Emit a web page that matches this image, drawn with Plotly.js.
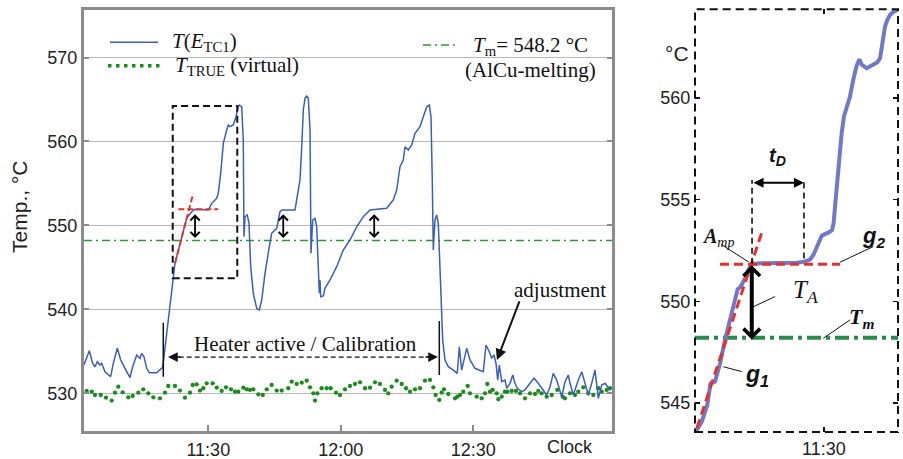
<!DOCTYPE html>
<html>
<head>
<meta charset="utf-8">
<script src="https://cdn.plot.ly/plotly-3.0.1.min.js"></script>
<style>html,body{margin:0;padding:0;background:#fff;}#chart{width:903px;height:459px;}</style>
</head>
<body>
<div id="chart"></div>
<script>
// ---------- DATA (minutes after 11:00, temperature in °C) ----------
const mainX = [1.86,3.06,3.83,4.35,4.87,5.48,5.87,6.61,7.90,8.49,9.40,10.17,11.14,12.27,12.88,13.79,14.54,14.92,15.44,16.05,16.64,18.32,19.68,
  20.58,21.33,21.94,22.46,22.85,24.34,25.11,26.24,26.99,30.00,30.77,31.90,32.26,32.81,33.40,34.17,34.53,34.91,35.66,36.27,36.66,37.02,37.56,
  37.92,38.08,38.31,38.83,39.21,39.60,40.19,40.96,41.55,42.09,42.84,43.36,43.81,44.35,45.49,46.23,46.69,49.63,50.38,50.76,51.15,51.51,51.89,
  52.28,52.64,53.03,53.25,53.64,54.16,54.54,54.90,55.13,55.29,55.45,56.04,56.42,57.55,59.07,60.56,62.08,63.60,65.09,66.22,66.61,70.39,71.88,
  72.65,73.40,74.15,74.53,75.28,76.05,76.80,77.93,78.68,79.45,80.03,80.42,80.71,80.94,81.32,81.71,82.07,82.46,82.84,83.07,83.59,84.34,85.47,
  86.37,86.83,87.37,88.50,89.25,90.38,92.26,92.87,93.62,94.16,94.68,95.14,95.52,95.88,96.43,97.17,97.56,98.31,98.92,99.44,99.96,100.96,101.70,
  102.83,103.74,104.71,105.84,106.61,107.36,108.11,108.88,110.01,110.76,111.50,111.89,112.64,113.77,114.54,115.29,116.03,116.80,117.55,118.30,
  119.07,119.81,120.56,120.95];
const mainT = [533.37,535.07,533.57,533.17,533.76,533.37,533.57,532.57,531.98,533.57,535.36,533.97,532.98,531.86,533.17,534.56,534.17,534.76,534.36,532.98,532.45,532.45,533.10,
  537.15,541.11,543.73,545.49,546.27,549.45,550.85,551.63,551.92,551.83,552.63,553.23,553.82,556.21,559.78,561.36,561.96,561.76,561.96,562.95,563.95,564.34,564.14,
  560.17,548.65,551.04,551.24,550.25,545.08,541.91,540.12,539.92,541.11,544.29,546.27,547.46,549.06,549.65,551.63,551.83,551.83,554.22,555.41,559.37,563.75,565.14,
  565.41,565.14,561.36,546.68,550.64,550.85,549.84,545.08,541.91,543.50,541.51,541.59,542.51,543.50,545.08,547.07,548.26,549.84,551.04,551.63,551.83,552.04,553.03,
  554.22,556.99,557.79,559.37,558.98,559.58,560.97,561.76,562.95,564.14,564.34,562.95,555.41,547.07,550.64,551.24,550.25,545.08,539.53,536.35,533.97,533.17,532.77,
  532.38,535.55,532.77,535.36,533.97,532.98,532.57,535.75,534.95,534.17,534.56,533.57,531.58,533.37,531.38,531.58,530.59,531.19,532.18,531.19,530.59,530.19,530.39,
  531.19,531.79,531.19,530.39,529.80,530.79,532.38,531.58,529.59,531.38,532.18,531.19,529.80,531.58,532.57,531.19,529.80,531.19,532.77,529.40,
  530.99,531.19,530.59,530.39];

const trueX = [2.47,3.60,4.35,5.64,6.84,8.13,8.88,9.62,10.62,11.89,12.88,14.15,15.28,16.42,17.55,19.06,20.20,20.94,22.46,23.59,24.72,25.86,26.47,27.37,28.12,28.87,29.64,
  31.00,31.90,33.03,34.01,35.14,36.05,36.79,37.92,38.69,39.44,40.19,41.32,42.32,43.22,44.35,45.49,46.62,48.11,48.88,50.01,51.15,52.28,53.03,53.77,54.16,54.68,55.67,
  56.81,57.71,58.91,59.82,60.95,62.08,63.21,64.35,65.48,66.61,67.74,68.87,70.00,70.75,71.52,72.65,73.79,74.76,75.67,76.80,77.93,79.06,80.19,80.94,81.48,82.30,82.84,
  83.36,84.34,85.85,86.37,86.99,87.73,88.73,89.25,90.77,91.90,92.65,93.17,93.78,94.39,95.30,95.66,96.43,97.17,97.69,98.69,99.66,100.57,101.70,102.83,103.97,104.71,
  105.48,106.61,107.75,109.01,110.24,110.76,111.89,113.02,113.77,114.90,116.03,117.17,118.30,119.07,120.20,120.95];
const trueT = [530.28,530.20,529.80,529.80,529.48,529.13,530.08,530.79,530.12,529.52,529.68,530.08,530.48,530.00,529.52,529.40,530.08,530.87,530.87,530.32,529.48,530.08,530.99,531.07,530.32,530.60,531.19,
  531.19,530.67,530.28,530.71,530.48,530.20,530.20,530.67,530.48,530.40,530.48,529.88,529.80,530.48,530.99,530.32,530.32,530.60,531.39,531.11,531.27,531.51,530.71,530.00,529.13,530.00,530.60,
  530.60,530.60,530.08,529.80,530.48,530.87,531.11,531.31,530.60,530.67,531.31,531.11,530.40,530.00,530.79,531.51,531.11,530.60,530.20,530.48,530.60,531.51,531.59,530.71,529.80,529.21,530.08,
  530.48,529.92,529.40,529.60,529.80,530.20,530.87,530.00,529.60,529.40,530.00,531.11,530.20,530.40,530.00,529.29,529.60,530.20,530.20,530.28,530.28,530.00,529.40,530.00,529.92,530.28,
  530.00,529.60,529.80,530.40,529.60,529.40,530.00,529.80,530.20,530.71,530.00,529.80,530.60,530.20,530.40,530.60];

const Tm = 548.2;

// detail window (inset)
const insetX = [20.70,21.15,21.55,21.70,21.78,22.11,22.50,22.83,23.25,23.68,23.75,23.95,24.30,24.52,24.77,25.37,27.50,28.02,28.60,28.99,29.25,29.47,29.83,30.05,30.29,30.58,30.70,30.80,31.04,31.28,31.45,31.64,31.88,32.12,32.35,32.56,32.75,33.09,33.57,33.85,34.06,34.20,34.42,34.60,34.78,35.05,35.36];
const insetT = [543.57,544.08,544.90,545.48,545.95,546.05,547.00,548.10,549.20,550.31,550.60,550.70,551.15,551.54,551.82,551.87,551.87,551.90,551.95,552.05,552.30,552.69,553.21,553.30,553.36,553.50,553.85,554.65,556.62,558.26,559.10,559.57,560.06,560.89,561.55,561.90,561.62,561.46,561.62,561.75,561.95,562.50,563.51,563.85,564.08,564.25,564.33];

// tangent lines g1 (rise) and g2 (plateau)
const g1MainX = [22.47, 26.60], g1MainT = [545.50, 553.83];
const g2MainX = [23.21, 32.26], g2MainT = [551.93, 551.93];
const g1InsetX = [20.80, 25.51], g1InsetT = [543.77, 553.41];
const g2InsetX = [22.47, 31.16], g2InsetT = [551.82, 551.82];

// plateau (A_mp) markers for the three cycles
const plateauX = [27.0, 46.97, 67.56];
const plateauT = [551.5, 551.5, 551.5];

const yTicks = [530, 540, 550, 560, 570];
const xTickVals = [30, 60, 90];
const xTickText = ['11:30', '12:00', '12:30'];
const insetYTicks = [545, 550, 555, 560];
const insetXTickVals = [30];
const insetXTickText = ['11:30'];

const xRange = [1.86, 121.51], yRange = [525.51, 575.66];
const x2Range = [20.66, 35.36], y2Range = [543.57, 564.36];

// ---------- TRACES ----------
const blue = '#3b5fb8', green = '#1a8c1a', red = '#e8302a';
const traces = [
  {x: trueX, y: trueT, mode: 'markers', marker: {color: green, size: 4.3}, xaxis: 'x', yaxis: 'y'},
  {x: xRange, y: [Tm, Tm], mode: 'lines', line: {color: '#2e9a2e', width: 1.3, dash: '8px,4px,2px,4px'}, xaxis: 'x', yaxis: 'y'},
  {x: mainX, y: mainT, mode: 'lines', line: {color: blue, width: 1.5}, xaxis: 'x', yaxis: 'y'},
  {x: g1MainX, y: g1MainT, mode: 'lines', line: {color: red, width: 2, dash: '6px,3px'}, xaxis: 'x', yaxis: 'y'},
  {x: g2MainX, y: g2MainT, mode: 'lines', line: {color: red, width: 2, dash: '6px,3px'}, xaxis: 'x', yaxis: 'y'},
  {x: x2Range, y: [Tm, Tm], mode: 'lines', line: {color: '#2a8a4c', width: 4, dash: '14px,5px,4px,5px'}, xaxis: 'x2', yaxis: 'y2'},
  {x: insetX, y: insetT, mode: 'lines', line: {color: '#7079c9', width: 4}, xaxis: 'x2', yaxis: 'y2'},
  {x: g1InsetX, y: g1InsetT, mode: 'lines', line: {color: red, width: 3, dash: '9px,5px'}, xaxis: 'x2', yaxis: 'y2'},
  {x: g2InsetX, y: g2InsetT, mode: 'lines', line: {color: red, width: 3, dash: '9px,5px'}, xaxis: 'x2', yaxis: 'y2'}
];

// ---------- LAYOUT ----------
const tickFont = {family: 'Liberation Sans, Arial, sans-serif', size: 18, color: '#222'};
const serif = 'Liberation Serif, Times New Roman, serif';
const sans = 'Liberation Sans, Arial, sans-serif';

const shapes = [
  {type: 'rect', xref: 'x2 domain', yref: 'y2 domain', x0: 0, x1: 1, y0: 0, y1: 1, line: {color: '#111', width: 2, dash: '8px,5px'}},
  {type: 'rect', xref: 'x', yref: 'y', x0: 21.95, x1: 36.56, y0: 543.71, y1: 564.23, line: {color: '#111', width: 2, dash: '7px,4px'}},
  {type: 'line', xref: 'x', yref: 'y', x0: 21.5, x1: 81.4, y0: 534.32, y1: 534.32, line: {color: '#111', width: 1.3, dash: '5px,3px'}},
  {type: 'line', xref: 'x', yref: 'y', x0: 19.81, x1: 19.81, y0: 531.98, y1: 538.41, line: {color: '#111', width: 1.5}},
  {type: 'line', xref: 'x', yref: 'y', x0: 82.30, x1: 82.30, y0: 532.18, y1: 538.61, line: {color: '#111', width: 1.5}},
  {type: 'line', xref: 'x2', yref: 'y2', x0: 24.79, x1: 24.79, y0: 551.85, y1: 555.97, line: {color: '#111', width: 1.6, dash: '6px,4px'}},
  {type: 'line', xref: 'x2', yref: 'y2', x0: 28.55, x1: 28.55, y0: 552.1, y1: 555.97, line: {color: '#111', width: 1.6, dash: '6px,4px'}},
  {type: 'line', xref: 'x2', yref: 'y2', x0: 22.55, x1: 24.55, y0: 552.80, y1: 551.93, line: {color: '#111', width: 1}},
  {type: 'line', xref: 'x2', yref: 'y2', x0: 31.16, x1: 33.57, y0: 551.92, y1: 552.69, line: {color: '#111', width: 1}},
  {type: 'line', xref: 'x2', yref: 'y2', x0: 24.88, x1: 26.45, y0: 549.73, y1: 550.23, line: {color: '#111', width: 1}},
  {type: 'line', xref: 'x2', yref: 'y2', x0: 29.95, x1: 31.88, y0: 548.18, y1: 549.08, line: {color: '#111', width: 1}},
  {type: 'line', xref: 'x2', yref: 'y2', x0: 22.71, x1: 24.04, y0: 546.78, y1: 546.54, line: {color: '#111', width: 1}},
  {type: 'line', xref: 'paper', yref: 'paper', x0: 0.1218, x1: 0.1750, y0: 0.9078, y1: 0.9078, line: {color: blue, width: 1.6}},
  {type: 'line', xref: 'paper', yref: 'paper', x0: 0.1196, x1: 0.1772, y0: 0.8569, y1: 0.8569, line: {color: green, width: 3.5, dash: '3.5px,4.5px'}},
  {type: 'line', xref: 'paper', yref: 'paper', x0: 0.4684, x1: 0.5083, y0: 0.9020, y1: 0.9020, line: {color: '#2e9a2e', width: 1.5, dash: '8px,4px,2px,4px'}}
];

function pa(x, y, text, font, extra) {
  return Object.assign({xref: 'paper', yref: 'paper', x: x, y: y, text: text, showarrow: false,
    xanchor: 'center', yanchor: 'middle', font: font}, extra || {});
}
const annotations = [
  pa(0.0210, 0.549, 'Temp., °C', {family: sans, size: 21, color: '#222'}, {textangle: -90}),
  pa(0.6312, 0.0262, 'Clock', {family: sans, size: 18, color: '#222'}),
  pa(0.7497, 0.8845, '°C', {family: sans, size: 21, color: '#222'}),
  pa(0.1883, 0.9085, '<i>T</i>(<i>E</i><sub>TC1</sub>)', {family: serif, size: 21, color: '#111'}, {xanchor: 'left'}),
  pa(0.1916, 0.8562, '<i>T</i><sub>TRUE</sub> (virtual)', {family: serif, size: 21, color: '#111'}, {xanchor: 'left'}),
  pa(0.5216, 0.8998, '<i>T</i><sub>m</sub>= 548.2 °C', {family: serif, size: 21, color: '#111'}, {xanchor: 'left'}),
  pa(0.5127, 0.8475, '(AlCu-melting)', {family: serif, size: 21, color: '#111'}, {xanchor: 'left'}),
  {xref: 'x', yref: 'y', x: 52.0, y: 535.9, xanchor: 'center', yanchor: 'middle', text: 'Heater active / Calibration', showarrow: false, font: {family: serif, size: 21, color: '#111'}},
  {xref: 'x', yref: 'y', x: 20.88, y: 534.32, ax: 14, ay: 0, text: '', showarrow: true, arrowhead: 2, arrowwidth: 1.5, arrowsize: 1.3, arrowcolor: '#111'},
  {xref: 'x', yref: 'y', x: 82.0, y: 534.32, ax: -14, ay: 0, text: '', showarrow: true, arrowhead: 2, arrowwidth: 1.5, arrowsize: 1.3, arrowcolor: '#111'},
  {xref: 'x', yref: 'y', x: 109.6, y: 542.3, xanchor: 'center', yanchor: 'middle', text: 'adjustment', showarrow: false, font: {family: serif, size: 21, color: '#111'}},
  {xref: 'x', yref: 'y', x: 95.36, y: 533.97, ax: 23, ay: -60, text: '', showarrow: true, arrowhead: 2, arrowwidth: 2, arrowsize: 1.1, arrowcolor: '#111'},
  {xref: 'x2', yref: 'y2', x: 24.77, y: 548.12, axref: 'x2', ayref: 'y2', ax: 24.77, ay: 551.85, text: '', showarrow: true,
   arrowside: 'end+start', arrowhead: 4, startarrowhead: 4, arrowwidth: 4, arrowsize: 0.8, startarrowsize: 0.8, arrowcolor: '#000'},
  {xref: 'x2', yref: 'y2', x: 28.55, y: 555.83, axref: 'x2', ayref: 'y2', ax: 24.79, ay: 555.83, text: '', showarrow: true,
   arrowside: 'end+start', arrowhead: 2, startarrowhead: 2, arrowwidth: 2, arrowsize: 1, startarrowsize: 1, arrowcolor: '#000'},
  {xref: 'x2', yref: 'y2', x: 26.60, y: 557.10, xanchor: 'center', yanchor: 'middle', text: '<b><i>t</i></b><sub><b><i>D</i></b></sub>', showarrow: false, font: {family: sans, size: 20, color: '#111'}},
  {xref: 'x2', yref: 'y2', x: 22.35, y: 553.15, xanchor: 'center', yanchor: 'middle', text: '<b><i>A</i></b><sub><i>mp</i></sub>', showarrow: false, font: {family: serif, size: 20, color: '#111'}},
  {xref: 'x2', yref: 'y2', x: 33.62, y: 553.16, xanchor: 'center', yanchor: 'middle', text: '<b><i>g</i></b><sub><b><i>2</i></b></sub>', showarrow: false, font: {family: sans, size: 22, color: '#111'}},
  {xref: 'x2', yref: 'y2', x: 28.65, y: 550.50, xanchor: 'center', yanchor: 'middle', text: '<i>T</i><sub><i>A</i></sub>', showarrow: false, font: {family: serif, size: 25, color: '#111'}},
  {xref: 'x2', yref: 'y2', x: 32.75, y: 549.18, xanchor: 'center', yanchor: 'middle', text: '<b><i>T</i></b><sub><b><i>m</i></b></sub>', showarrow: false, font: {family: serif, size: 22, color: '#111'}},
  {xref: 'x2', yref: 'y2', x: 25.15, y: 546.33, xanchor: 'center', yanchor: 'middle', text: '<b><i>g</i></b><sub><b><i>1</i></b></sub>', showarrow: false, font: {family: sans, size: 23, color: '#111'}}
];
plateauX.forEach((px, i) => {
  annotations.push({xref: 'x', yref: 'y', x: px, y: 548.5, axref: 'x', ayref: 'y', ax: px, ay: plateauT[i], text: '', showarrow: true,
    arrowside: 'end+start', arrowhead: 4, startarrowhead: 4, arrowwidth: 1.8, arrowsize: 1, startarrowsize: 1, arrowcolor: '#000'});
});

const layout = {
  width: 903, height: 459,
  margin: {l: 0, r: 0, t: 0, b: 0},
  paper_bgcolor: '#fff', plot_bgcolor: '#fff',
  showlegend: false,
  xaxis: {domain: [0.09302, 0.67829], range: xRange, anchor: 'y', tickvals: xTickVals, ticktext: xTickText,
    ticks: 'inside', ticklen: 6, tickwidth: 2, tickcolor: '#8c8c8c', showline: true, linewidth: 3, linecolor: '#8c8c8c', mirror: true,
    showgrid: false, zeroline: false, tickfont: tickFont, automargin: false},
  yaxis: {domain: [0.0610, 0.97821], range: yRange, anchor: 'x', tickvals: yTicks,
    ticks: 'inside', ticklen: 5, tickwidth: 2, tickcolor: '#8c8c8c', showline: true, linewidth: 3, linecolor: '#8c8c8c', mirror: 'ticks',
    showgrid: true, gridcolor: '#b8b8b8', gridwidth: 1, zeroline: false, tickfont: tickFont, automargin: false},
  xaxis2: {domain: [0.76966, 0.99446], range: x2Range, anchor: 'y2', tickvals: insetXTickVals, ticktext: insetXTickText,
    ticks: 'inside', ticklen: 5, tickwidth: 1.5, tickcolor: '#111', showline: true, linecolor: 'rgba(0,0,0,0)', mirror: 'ticks',
    showgrid: false, zeroline: false, tickfont: tickFont, automargin: false},
  yaxis2: {domain: [0.05882, 0.97974], range: y2Range, anchor: 'x2', tickvals: insetYTicks,
    ticks: 'inside', ticklen: 5, tickwidth: 1.5, tickcolor: '#111', showline: true, linecolor: 'rgba(0,0,0,0)', mirror: 'ticks',
    showgrid: false, zeroline: false, tickfont: tickFont, automargin: false},
  shapes: shapes,
  annotations: annotations
};

Plotly.newPlot('chart', traces, layout, {displayModeBar: false, staticPlot: true});
</script>
</body>
</html>
